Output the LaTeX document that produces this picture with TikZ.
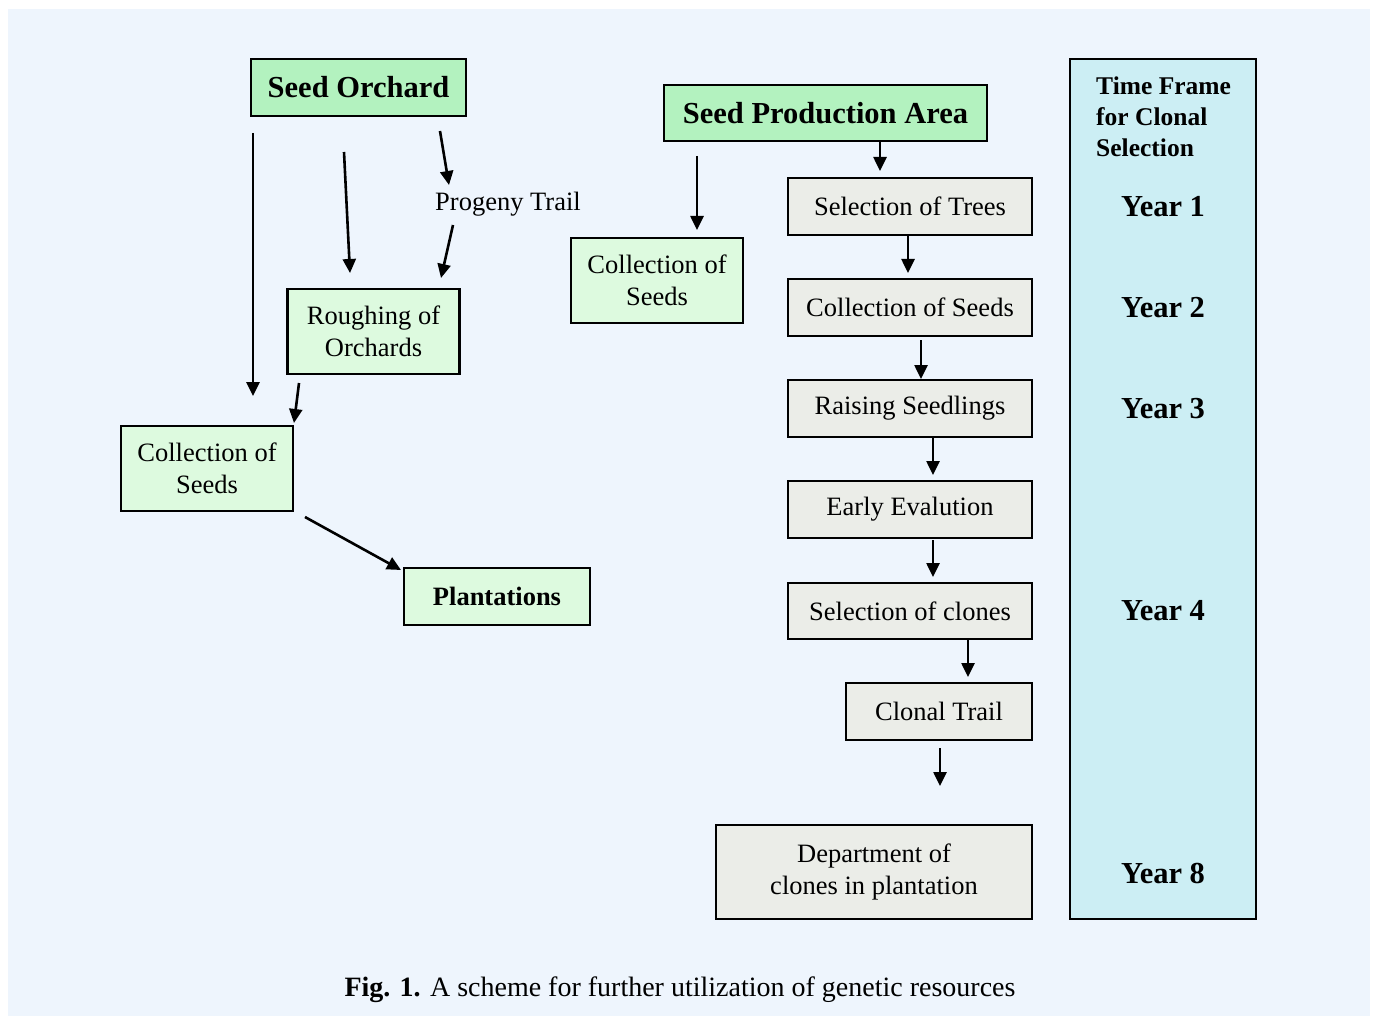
\documentclass[tikz,border=0pt]{standalone}
\usepackage{fontspec}
\setmainfont{Liberation Serif}
\usetikzlibrary{arrows.meta}
\definecolor{bgc}{RGB}{238,245,253}
\definecolor{gdark}{RGB}{179,242,191}
\definecolor{glight}{RGB}{221,250,223}
\definecolor{grayb}{RGB}{235,237,232}
\definecolor{cyanb}{RGB}{204,238,244}
\tikzset{
  box/.style={draw=black, line width=2.7pt, rectangle, inner sep=0pt, align=center,
    font=\fontsize{26.5}{31.5}\selectfont},
  title/.style={box, fill=gdark, font=\fontsize{30.5}{34}\selectfont\bfseries},
  gbox/.style={box, fill=glight},
  sbox/.style={box, fill=grayb},
  yr/.style={font=\fontsize{30.5}{34}\selectfont\bfseries},
  arr/.style={line width=2.6pt, -{Triangle[length=14pt,width=13pt]}},
}
\begin{document}
\begin{tikzpicture}[x=1pt,y=-1pt]
\useasboundingbox (0,0) rectangle (1375,1016);
\fill[white] (0,0) rectangle (1375,1016);
\fill[bgc] (8,9) rectangle (1370,1016);
% time frame column
\node[box, fill=cyanb, minimum width=186pt, minimum height=860pt] (tf) at (1163,489) {};
\node[anchor=north west, align=left, font=\fontsize{25.5}{31}\selectfont\bfseries, inner sep=0pt] (tft) at (1096,77) {Time Frame\\for Clonal\\Selection};
\node[yr] (y1) at (1163,207) {Year 1};
\node[yr] (y2) at (1163,308) {Year 2};
\node[yr] (y3) at (1163,409) {Year 3};
\node[yr] (y4) at (1163,611) {Year 4};
\node[yr] (y8) at (1163,873) {Year 8};
% left part
\node[title, minimum width=215pt, minimum height=57pt] (so) at (358.5,87.5) {Seed Orchard};
\node[gbox, minimum width=172pt, minimum height=85pt] (ro) at (373.5,331.5) {Roughing of\\Orchards};
\node[gbox, minimum width=172pt, minimum height=85pt] (cl) at (207,468.5) {Collection of\\Seeds};
\node[gbox, minimum width=186pt, minimum height=57pt, font=\fontsize{26.5}{31.5}\selectfont\bfseries] (pl) at (497,596.5) {Plantations};
\node[font=\fontsize{26.5}{31.5}\selectfont, inner sep=0pt] (pt) at (508,204) {Progeny Trail};
% right part
\node[title, minimum width=323pt, minimum height=56pt] (spa) at (825.5,113) {Seed Production Area};
\node[gbox, minimum width=172pt, minimum height=85pt] (cm) at (657,280.5) {Collection of\\Seeds};
\node[sbox, minimum width=244pt, minimum height=57pt] (st) at (910,206.5) {Selection of Trees};
\node[sbox, minimum width=244pt, minimum height=57pt] (cs) at (910,307.5) {Collection of Seeds};
\node[sbox, minimum width=244pt, minimum height=57pt] (rs) at (910,408.5) {Raising Seedlings};
\node[sbox, minimum width=244pt, minimum height=57pt] (ee) at (910,509.5) {Early Evalution};
\node[sbox, minimum width=244pt, minimum height=56pt] (sc) at (910,611) {Selection of clones};
\node[sbox, minimum width=186pt, minimum height=57pt] (ct) at (939,711.5) {Clonal Trail};
\node[sbox, minimum width=316pt, minimum height=94pt] (dc) at (874,872) {Department of\\clones in plantation};
% arrow coordinates
\coordinate (a1s) at (253,133); \coordinate (a1e) at (253,396);
\coordinate (a2s) at (344,152); \coordinate (a2e) at (350,273);
\coordinate (a3s) at (440,131); \coordinate (a3e) at (449,185);
\coordinate (a4s) at (453,225); \coordinate (a4e) at (441,278);
\coordinate (a5s) at (299,383); \coordinate (a5e) at (294,423);
\coordinate (a6s) at (305,517); \coordinate (a6e) at (401,570);
\coordinate (b1s) at (697,156); \coordinate (b1e) at (697,230);
\coordinate (b2s) at (880,142); \coordinate (b2e) at (880,171);
\coordinate (b3s) at (908,236); \coordinate (b3e) at (908,273);
\coordinate (b4s) at (921,340); \coordinate (b4e) at (921,379);
\coordinate (b5s) at (933,438); \coordinate (b5e) at (933,475);
\coordinate (b6s) at (933,540); \coordinate (b6e) at (933,577);
\coordinate (b7s) at (968,640); \coordinate (b7e) at (968,677);
\coordinate (b8s) at (940,748); \coordinate (b8e) at (940,786);
\foreach \a in {a1,a2,a3,a4,a5,a6,b1,b2,b3,b4,b5,b6,b7,b8}
  \draw[arr] (\a s) -- (\a e);
% caption
\node[font=\fontsize{28}{31.5}\selectfont] (cap) at (680,990) {\textbf{Fig. 1.} A scheme for further utilization of genetic resources};
\end{tikzpicture}
\end{document}
